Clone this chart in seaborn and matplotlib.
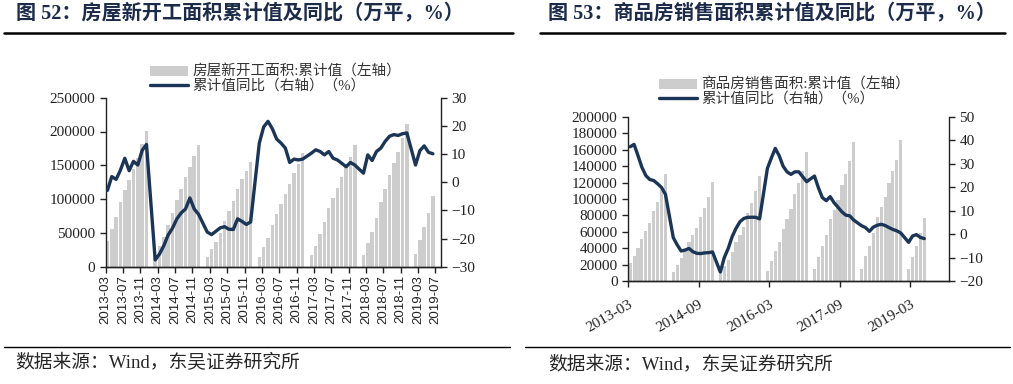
import pandas as pd
import matplotlib
matplotlib.use('Agg')
import matplotlib.pyplot as plt
import seaborn as sns
from matplotlib.patches import Patch
from matplotlib.lines import Line2D

# monthly data 2013-03 .. 2019-06, January has no value (None)
months = pd.period_range('2013-03', '2019-06', freq='M').strftime('%Y-%m').tolist()

# 房屋新开工面积 累计值 (万平) / 累计同比 (%)
starts_total = [38300, 55600, 74000, 96000, 113200, 128000, 145000, 161000, 181000, 201200,
                None, 17000, 31000, 44000, 61000, 80000, 98000, 115000, 132000, 148000, 164000, 180500,
                None, 14500, 25500, 37000, 50000, 67000, 82000, 96500, 115500, 129000, 141500, 155500,
                None, 15000, 29000, 43000, 61000, 78500, 93000, 107000, 123000, 139000, 152000, 167500,
                None, 17500, 31000, 49000, 66000, 87000, 102000, 116000, 132000, 149000, 163000, 179500,
                None, 18000, 35000, 52000, 72500, 96000, 115000, 135000, 154000, 169000, 190000, 210500,
                None, 19000, 39000, 59000, 80000, 105000]
starts_yoy = [-2.9, 2.0, 1.0, 4.3, 8.5, 4.1, 7.4, 6.1, 11.3, 13.4,
              None, -27.6, -25.5, -22.5, -18.7, -16.3, -13.0, -10.9, -9.5, -5.6, -9.5, -11.4,
              None, -17.7, -18.6, -17.4, -16.2, -15.8, -16.7, -16.8, -13.0, -13.9, -15.0, -14.1,
              None, 13.9, 19.6, 21.6, 19.0, 15.3, 13.9, 12.1, 7.0, 8.2, 7.9, 8.2,
              None, 10.3, 11.5, 10.9, 9.7, 10.9, 8.5, 7.9, 6.7, 5.5, 7.0, 6.1,
              None, 3.2, 9.7, 7.7, 10.9, 12.1, 14.5, 16.3, 16.9, 16.6, 17.2, 17.5,
              None, 6.1, 11.2, 12.9, 10.6, 10.1]

# 商品房销售面积 累计值 (万平) / 累计同比 (%)
sales_total = [22000, 30500, 40000, 51000, 61000, 71000, 85000, 96000, 111000, 130500,
               None, 11400, 20000, 27600, 37000, 48000, 56000, 65000, 78000, 89000, 102000, 120600,
               None, 8300, 18500, 26000, 35000, 47000, 56000, 66000, 82500, 95000, 110000, 128500,
               None, 12000, 24000, 36000, 48000, 64000, 76000, 88000, 106000, 120000, 134000, 157500,
               None, 14600, 29700, 42700, 56000, 75600, 87000, 99000, 117000, 131000, 146000, 169000,
               None, 14600, 30500, 42700, 58000, 77600, 90000, 103000, 119000, 134000, 148000, 172000,
               None, 14600, 29700, 42700, 58000, 76400]
sales_yoy = [37.3, 38.3, 33.5, 28.5, 25.0, 23.3, 22.9, 21.5, 19.9, 17.0,
             None, -1.5, -4.6, -7.2, -6.8, -6.1, -7.5, -8.2, -8.3, -8.0, -7.9, -7.6,
             None, -16.2, -10.0, -6.1, -1.1, 2.5, 5.3, 6.7, 7.2, 7.2, 7.2, 6.5,
             None, 28.1, 32.5, 36.6, 33.5, 29.0, 26.6, 25.5, 26.6, 26.6, 24.5, 22.4,
             None, 24.8, 19.8, 15.6, 14.3, 16.0, 13.4, 11.5, 9.5, 8.1, 7.8, 6.0,
             None, 3.6, 2.8, 1.2, 3.0, 3.8, 4.2, 3.7, 2.8, 2.0, 1.4, 0.5,
             None, -3.5, -0.8, -0.2, -1.4, -1.9]

left_ticks = ['2013-03', '2013-07', '2013-11', '2014-03', '2014-07', '2014-11', '2015-03',
              '2015-07', '2015-11', '2016-03', '2016-07', '2016-11', '2017-03', '2017-07',
              '2017-11', '2018-03', '2018-07', '2018-11', '2019-03', '2019-07']
right_ticks = ['2013-03', '2014-09', '2016-03', '2017-09', '2019-03']

BAR = '#cdcdcd'
NAVY = '#1b3556'
TITLE = '#1c2b4a'

sns.set_style('ticks')
plt.rcParams['font.family'] = ['Liberation Serif', 'Noto Sans CJK SC']
plt.rcParams['axes.linewidth'] = 1.0
plt.rcParams['axes.edgecolor'] = '#222222'


def month_pos(label):
    return (pd.Period(label, freq='M') - pd.Period('2013-03', freq='M')).n


def draw_panel(rect, totals, yoy, ylim1, step1, ylim2, step2, ticks, offset, xmax):
    df = pd.DataFrame({'pos': range(len(months)), 'total': totals, 'yoy': yoy})
    df = df.astype(float)
    ax = fig.add_axes(rect)
    bars = df.dropna(subset=['total'])
    sns.barplot(data=bars, x='pos', y='total', native_scale=True, color=BAR,
                width=0.8, errorbar=None, ax=ax, saturation=1, linewidth=0)
    ax2 = ax.twinx()
    line = df.dropna(subset=['yoy'])
    sns.lineplot(data=line, x='pos', y='yoy', color=NAVY, linewidth=2.4, ax=ax2)

    ax.set_ylim(*ylim1)
    ax.set_yticks(range(ylim1[0], ylim1[1] + 1, step1))
    ax2.set_ylim(*ylim2)
    ax2.set_yticks(range(ylim2[0], ylim2[1] + 1, step2))
    ax.set_xlim(-offset, xmax)
    ax.set_xticks([month_pos(t) - offset for t in ticks])
    ax.set_xlabel('')
    ax.set_ylabel('')
    ax2.set_xlabel('')
    ax2.set_ylabel('')
    for a in (ax, ax2):
        a.spines['top'].set_visible(False)
        a.tick_params(length=4, width=1.0, labelsize=11, colors='#222222')
        a.grid(False)
    ax.spines['right'].set_visible(False)
    ax2.spines['left'].set_visible(False)
    return ax, ax2


fig = plt.figure(figsize=(10.13, 3.84), dpi=100)

# left panel
axL, axL2 = draw_panel([105.7 / 1013, 1 - 266.7 / 384, 335 / 1013, 169 / 384],
                       starts_total, starts_yoy, (0, 250000), 50000, (-30, 30), 10,
                       left_ticks, 0.4, 76.8)
axL.set_xticklabels(left_ticks, rotation=90, fontsize=9.5, family='Liberation Sans')
axL.tick_params(axis='x', pad=2)

# right panel
axR, axR2 = draw_panel([628 / 1013, 1 - 281 / 384, 321 / 1013, 164 / 384],
                       sales_total, sales_yoy, (0, 200000), 20000, (-20, 50), 10,
                       right_ticks, 0.55, 81.3)
axR.set_xticklabels(right_ticks, rotation=30, ha='right', rotation_mode='anchor', fontsize=11)
axR.tick_params(axis='x', pad=8)

# legends
handles = [Patch(facecolor=BAR, edgecolor='none'), Line2D([], [], color=NAVY, lw=2.4)]
fig.legend(handles, ['房屋新开工面积:累计值（左轴）', '累计值同比（右轴）（%）'],
           loc='upper left', bbox_to_anchor=(150 / 1013, 1 - 65 / 384), frameon=False,
           fontsize=10.5, borderpad=0, borderaxespad=0, handlelength=2.6, handletextpad=0.3,
           labelspacing=0.0, labelcolor='#333333')
fig.legend(handles, ['商品房销售面积:累计值（左轴）', '累计值同比（右轴）（%）'],
           loc='upper left', bbox_to_anchor=(659 / 1013, 1 - 78 / 384), frameon=False,
           fontsize=10.5, borderpad=0, borderaxespad=0, handlelength=2.6, handletextpad=0.3,
           labelspacing=0.0, labelcolor='#333333')

# titles, rules, source notes
fig.text(16 / 1013, 1 - 13 / 384, '图 52：房屋新开工面积累计值及同比（万平，%）',
         fontsize=14.5, fontweight='bold', color=TITLE, va='center')
fig.text(548 / 1013, 1 - 13 / 384, '图 53：商品房销售面积累计值及同比（万平，%）',
         fontsize=14.5, fontweight='bold', color=TITLE, va='center')
for x0, x1 in [(4, 513), (540, 1005)]:
    fig.add_artist(Line2D([x0 / 1013, x1 / 1013], [1 - 33 / 384] * 2, color='black', lw=1.8))
for x0, x1 in [(4, 510), (525, 1010)]:
    fig.add_artist(Line2D([x0 / 1013, x1 / 1013], [1 - 347 / 384] * 2, color='black', lw=1.0))
fig.text(15 / 1013, 1 - 363 / 384, '数据来源：Wind，东吴证券研究所', fontsize=13.5, va='center')
fig.text(548 / 1013, 1 - 365 / 384, '数据来源：Wind，东吴证券研究所', fontsize=13.5, va='center')

fig.savefig('out.png', dpi=100)
